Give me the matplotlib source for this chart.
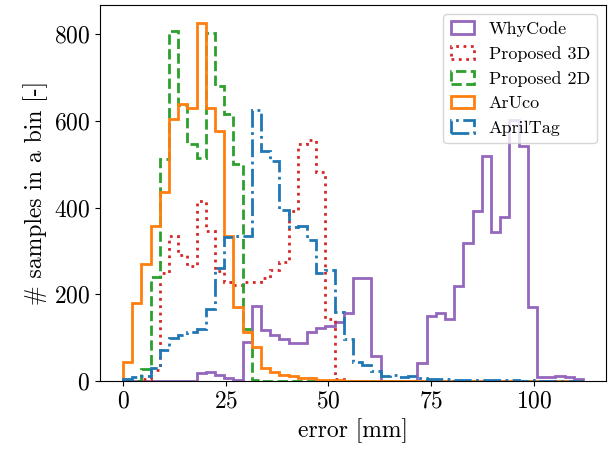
import numpy as np
from matplotlib import pyplot as plt

plt.rcParams['font.family'] = 'serif'
plt.rcParams['font.serif'] = ['cmr10']
plt.rcParams['mathtext.fontset'] = 'cm'
plt.rcParams['axes.formatter.use_mathtext'] = True

# 50 bins from 0 to 112 mm
edges = np.linspace(0, 112, 51)

whycode = [0, 0, 0, 0, 0, 0, 0, 0, 18, 21,
           15, 8, 2, 90, 174, 118, 106, 96, 88, 88,
           113, 123, 127, 136, 156, 238, 237, 57, 0, 0,
           0, 0, 41, 149, 156, 142, 218, 318, 392, 518,
           343, 378, 602, 543, 170, 10, 10, 11, 10, 4]
proposed3d = [0, 0, 5, 25, 250, 334, 290, 265, 416, 345,
              253, 228, 222, 228, 229, 238, 255, 275, 393, 546,
              557, 482, 142, 5, 0, 0, 0, 0, 0, 0,
              0, 0, 0, 0, 0, 0, 0, 0, 0, 0,
              0, 0, 0, 0, 0, 0, 0, 0, 0, 0]
proposed2d = [0, 0, 27, 240, 513, 807, 636, 547, 515, 803,
              680, 616, 501, 121, 2, 1, 0, 0, 0, 0,
              0, 0, 0, 0, 0, 0, 0, 0, 0, 0,
              0, 0, 0, 0, 0, 0, 0, 0, 0, 0,
              0, 0, 0, 0, 0, 0, 0, 0, 0, 0]
aruco = [44, 181, 270, 357, 437, 605, 640, 629, 826, 630,
         577, 334, 171, 113, 79, 31, 21, 15, 11, 8,
         6, 3, 2, 2, 1, 1, 1, 1, 0, 1,
         0, 1, 0, 1, 0, 0, 1, 0, 0, 1,
         0, 0, 1, 0, 0, 0, 1, 0, 0, 1]
apriltag = [5, 10, 12, 30, 71, 100, 107, 114, 120, 165,
            260, 333, 334, 335, 625, 530, 508, 395, 355, 357,
            326, 248, 255, 159, 98, 44, 37, 23, 12, 14,
            10, 11, 8, 5, 4, 4, 3, 3, 3, 2,
            2, 2, 2, 1, 2, 1, 1, 1, 1, 0]

series = [
    (whycode, 'WhyCode', 'tab:purple', '-'),
    (proposed3d, 'Proposed 3D', 'tab:red', ':'),
    (proposed2d, 'Proposed 2D', 'tab:green', '--'),
    (aruco, 'ArUco', 'tab:orange', '-'),
    (apriltag, 'AprilTag', 'tab:blue', '-.'),
]

fig = plt.figure(figsize=(6.15, 4.51), dpi=100)
ax = fig.add_axes([0.1626, 0.1552, 0.8228, 0.8338])

for counts, name, col, ls in series:
    ax.hist(edges[:-1], bins=edges, weights=counts, histtype='step',
            color=col, linestyle=ls, linewidth=2, label=name)

ax.set_xticks([0, 25, 50, 75, 100])
ax.set_yticks([0, 200, 400, 600, 800])
ax.tick_params(labelsize=17)
ax.set_xlabel('error [mm]', fontsize=17)
ax.set_ylabel('# samples in a bin [-]', fontsize=17)
ax.legend(loc='upper right', fontsize=13, handlelength=1.3)

fig.savefig('out.png', dpi=100)
